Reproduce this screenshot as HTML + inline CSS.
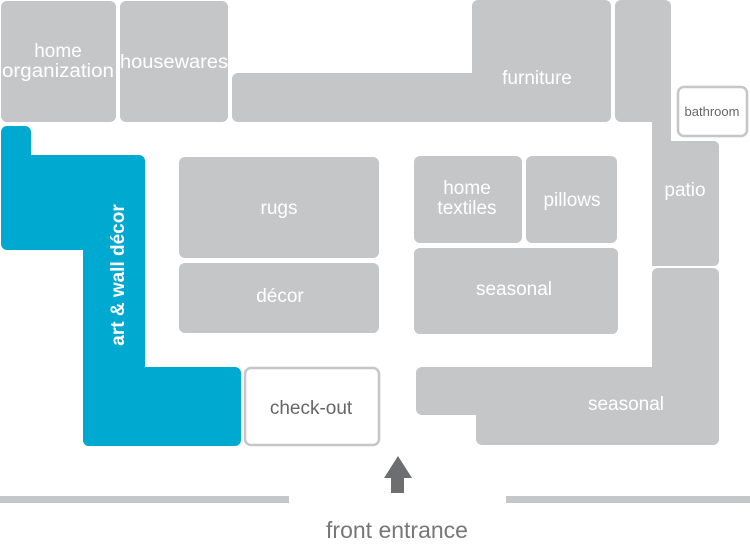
<!DOCTYPE html>
<html><head><meta charset="utf-8"><style>
html,body{margin:0;padding:0;background:#fff;}
svg{display:block;}
text{font-family:"Liberation Sans",sans-serif;}
.w{fill:#fff;font-size:19px;text-anchor:middle;}
.g{fill:#c5c6c8;}
</style></head><body>
<svg width="750" height="547" viewBox="0 0 750 547" xmlns="http://www.w3.org/2000/svg">
<g class="g">
<rect x="1" y="1" width="115" height="121" rx="6"/>
<rect x="120" y="1" width="108" height="121" rx="6"/>
<rect x="472" y="0" width="139" height="122" rx="6"/>
<rect x="232" y="73" width="379" height="49" rx="6"/>
<rect x="615" y="0" width="56" height="122" rx="6"/>
<rect x="652" y="100" width="19" height="166"/>
<rect x="652" y="141" width="67" height="125" rx="5"/>
<rect x="652" y="268" width="67" height="177" rx="6"/>
<rect x="416" y="367" width="300" height="48" rx="6"/>
<rect x="476" y="390" width="243" height="55" rx="6"/>
<rect x="179" y="157" width="200" height="101" rx="6"/>
<rect x="179" y="263" width="200" height="70" rx="6"/>
<rect x="414" y="156" width="108" height="87" rx="6"/>
<rect x="526" y="156" width="91" height="87" rx="6"/>
<rect x="414" y="248" width="204" height="86" rx="6"/>
<rect x="0" y="496" width="289" height="7"/>
<rect x="506" y="496" width="244" height="7"/>
</g>
<rect x="678" y="87" width="69" height="49" rx="6" fill="#fff" stroke="#c5c6c8" stroke-width="2.5"/>
<rect x="245" y="368" width="134" height="77" rx="6" fill="#fff" stroke="#c5c6c8" stroke-width="2.5"/>
<g fill="#00a9d0">
<rect x="1" y="126" width="30" height="60" rx="6"/>
<rect x="1" y="155" width="144" height="95" rx="6"/>
<rect x="83" y="160" width="62" height="286" rx="6"/>
<rect x="83" y="367" width="158" height="79" rx="6"/>
</g>
<text x="0" y="0" transform="translate(124,275) rotate(-90)" fill="#fff" font-size="19" font-weight="bold" text-anchor="middle">art &amp; wall décor</text>
<text class="w" x="58" y="57">home</text>
<text class="w" x="58" y="77" textLength="112" lengthAdjust="spacingAndGlyphs">organization</text>
<text class="w" x="174" y="68" textLength="108" lengthAdjust="spacingAndGlyphs">housewares</text>
<text class="w" x="537" y="84">furniture</text>
<text class="w" x="685" y="196">patio</text>
<text x="712" y="116" fill="#666" font-size="13" text-anchor="middle">bathroom</text>
<text class="w" x="279" y="214">rugs</text>
<text class="w" x="280" y="302">décor</text>
<text class="w" x="467" y="194">home</text>
<text class="w" x="467" y="214">textiles</text>
<text class="w" x="572" y="206">pillows</text>
<text class="w" x="514" y="295">seasonal</text>
<text class="w" x="626" y="410">seasonal</text>
<text x="311" y="414" fill="#666" font-size="19" text-anchor="middle">check-out</text>
<polygon points="398,456 412,478 404,478 404,493 391,493 391,478 384,478" fill="#6d6e70"/>
<text x="397" y="538" fill="#777" font-size="23" text-anchor="middle">front entrance</text>
</svg>
</body></html>
